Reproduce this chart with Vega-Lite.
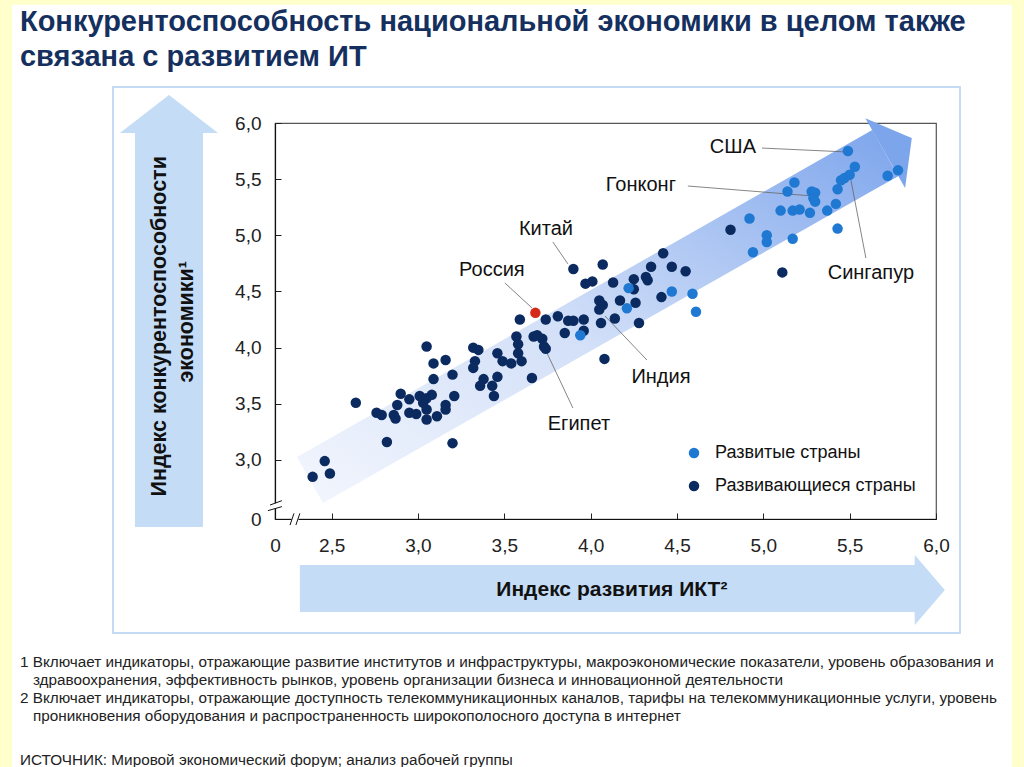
{
  "$schema": "https://vega.github.io/schema/vega-lite/v6.json",
  "width": 661,
  "height": 396,
  "autosize": "none",
  "padding": {"left": 275, "top": 123, "right": 88, "bottom": 248},
  "background": "white",
  "config": {"view": {"stroke": "#555555", "strokeWidth": 1.2}},
  "datasets": {
    "strips": [
      {"x": 0.579, "x2": 0.649, "y": 0.268, "y2": 7.1},
      {"x": 6.439, "x2": 6.509, "y": 0.268, "y2": 7.1},
      {"x": 0.579, "x2": 6.509, "y": 7.053, "y2": 7.1}
    ],
    "box": [{"x": 1.234, "x2": 6.139, "y": 1.46, "y2": 6.32}],
    "leftArrow": [
      {"y": 2.403, "x": 1.361, "x2": 1.755},
      {"y": 5.910, "x": 1.361, "x2": 1.755},
      {"y": 5.911, "x": 1.274, "x2": 1.842},
      {"y": 6.249, "x": 1.558, "x2": 1.558}
    ],
    "bottomArrow": [
      {"x": 2.316, "y": 1.647, "y2": 2.065},
      {"x": 5.876, "y": 1.647, "y2": 2.065},
      {"x": 5.877, "y": 1.531, "y2": 2.154},
      {"x": 6.051, "y": 1.842, "y2": 1.842}
    ],
    "bandBody": [
      {"x": 2.299, "y": 3.027, "y2": 3.027},
      {"x": 2.450, "y": 2.617, "y2": 3.158},
      {"x": 5.631, "y": 5.396, "y2": 5.937},
      {"x": 5.781, "y": 5.527, "y2": 5.527}
    ],
    "bandHead": [
      {"x": 5.591, "y": 6.042, "y2": 6.042},
      {"x": 5.821, "y": 5.422, "y2": 5.892},
      {"x": 5.860, "y": 5.866, "y2": 5.866}
    ],
    "pts": [
      {"x": 2.39, "y": 2.85, "type": "Развивающиеся страны"},
      {"x": 2.46, "y": 2.99, "type": "Развивающиеся страны"},
      {"x": 2.49, "y": 2.88, "type": "Развивающиеся страны"},
      {"x": 2.64, "y": 3.51, "type": "Развивающиеся страны"},
      {"x": 2.76, "y": 3.42, "type": "Развивающиеся страны"},
      {"x": 2.79, "y": 3.40, "type": "Развивающиеся страны"},
      {"x": 2.82, "y": 3.16, "type": "Развивающиеся страны"},
      {"x": 2.86, "y": 3.40, "type": "Развивающиеся страны"},
      {"x": 2.87, "y": 3.37, "type": "Развивающиеся страны"},
      {"x": 2.88, "y": 3.49, "type": "Развивающиеся страны"},
      {"x": 2.90, "y": 3.59, "type": "Развивающиеся страны"},
      {"x": 2.95, "y": 3.54, "type": "Развивающиеся страны"},
      {"x": 2.95, "y": 3.42, "type": "Развивающиеся страны"},
      {"x": 2.99, "y": 3.41, "type": "Развивающиеся страны"},
      {"x": 3.01, "y": 3.57, "type": "Развивающиеся страны"},
      {"x": 3.03, "y": 3.51, "type": "Развивающиеся страны"},
      {"x": 3.05, "y": 3.55, "type": "Развивающиеся страны"},
      {"x": 3.08, "y": 3.58, "type": "Развивающиеся страны"},
      {"x": 3.05, "y": 4.01, "type": "Развивающиеся страны"},
      {"x": 3.09, "y": 3.86, "type": "Развивающиеся страны"},
      {"x": 3.09, "y": 3.72, "type": "Развивающиеся страны"},
      {"x": 3.05, "y": 3.45, "type": "Развивающиеся страны"},
      {"x": 3.05, "y": 3.36, "type": "Развивающиеся страны"},
      {"x": 3.11, "y": 3.39, "type": "Развивающиеся страны"},
      {"x": 3.16, "y": 3.89, "type": "Развивающиеся страны"},
      {"x": 3.16, "y": 3.49, "type": "Развивающиеся страны"},
      {"x": 3.16, "y": 3.45, "type": "Развивающиеся страны"},
      {"x": 3.20, "y": 3.76, "type": "Развивающиеся страны"},
      {"x": 3.21, "y": 3.57, "type": "Развивающиеся страны"},
      {"x": 3.20, "y": 3.15, "type": "Развивающиеся страны"},
      {"x": 3.32, "y": 4.00, "type": "Развивающиеся страны"},
      {"x": 3.35, "y": 3.98, "type": "Развивающиеся страны"},
      {"x": 3.33, "y": 3.88, "type": "Развивающиеся страны"},
      {"x": 3.32, "y": 3.82, "type": "Развивающиеся страны"},
      {"x": 3.38, "y": 3.72, "type": "Развивающиеся страны"},
      {"x": 3.36, "y": 3.66, "type": "Развивающиеся страны"},
      {"x": 3.43, "y": 3.66, "type": "Развивающиеся страны"},
      {"x": 3.44, "y": 3.57, "type": "Развивающиеся страны"},
      {"x": 3.46, "y": 3.74, "type": "Развивающиеся страны"},
      {"x": 3.46, "y": 3.95, "type": "Развивающиеся страны"},
      {"x": 3.49, "y": 3.88, "type": "Развивающиеся страны"},
      {"x": 3.54, "y": 3.86, "type": "Развивающиеся страны"},
      {"x": 3.57, "y": 4.10, "type": "Развивающиеся страны"},
      {"x": 3.58, "y": 4.03, "type": "Развивающиеся страны"},
      {"x": 3.58, "y": 3.95, "type": "Развивающиеся страны"},
      {"x": 3.60, "y": 3.88, "type": "Развивающиеся страны"},
      {"x": 3.59, "y": 4.25, "type": "Развивающиеся страны"},
      {"x": 3.66, "y": 3.73, "type": "Развивающиеся страны"},
      {"x": 3.67, "y": 4.10, "type": "Развивающиеся страны"},
      {"x": 3.69, "y": 4.11, "type": "Развивающиеся страны"},
      {"x": 3.72, "y": 4.08, "type": "Развивающиеся страны"},
      {"x": 3.73, "y": 4.01, "type": "Развивающиеся страны"},
      {"x": 3.74, "y": 3.99, "type": "Развивающиеся страны"},
      {"x": 3.74, "y": 4.25, "type": "Развивающиеся страны"},
      {"x": 3.81, "y": 4.28, "type": "Развивающиеся страны"},
      {"x": 3.87, "y": 4.24, "type": "Развивающиеся страны"},
      {"x": 3.90, "y": 4.24, "type": "Развивающиеся страны"},
      {"x": 3.96, "y": 4.25, "type": "Развивающиеся страны"},
      {"x": 3.85, "y": 4.13, "type": "Развивающиеся страны"},
      {"x": 3.96, "y": 4.15, "type": "Развивающиеся страны"},
      {"x": 4.06, "y": 4.22, "type": "Развивающиеся страны"},
      {"x": 4.08, "y": 3.90, "type": "Развивающиеся страны"},
      {"x": 3.90, "y": 4.70, "type": "Развивающиеся страны"},
      {"x": 4.07, "y": 4.74, "type": "Развивающиеся страны"},
      {"x": 3.97, "y": 4.57, "type": "Развивающиеся страны"},
      {"x": 4.01, "y": 4.59, "type": "Развивающиеся страны"},
      {"x": 4.05, "y": 4.42, "type": "Развивающиеся страны"},
      {"x": 4.07, "y": 4.38, "type": "Развивающиеся страны"},
      {"x": 4.05, "y": 4.34, "type": "Развивающиеся страны"},
      {"x": 4.13, "y": 4.58, "type": "Развивающиеся страны"},
      {"x": 4.25, "y": 4.61, "type": "Развивающиеся страны"},
      {"x": 4.25, "y": 4.52, "type": "Развивающиеся страны"},
      {"x": 4.32, "y": 4.63, "type": "Развивающиеся страны"},
      {"x": 4.33, "y": 4.60, "type": "Развивающиеся страны"},
      {"x": 4.35, "y": 4.72, "type": "Развивающиеся страны"},
      {"x": 4.42, "y": 4.84, "type": "Развивающиеся страны"},
      {"x": 4.47, "y": 4.72, "type": "Развивающиеся страны"},
      {"x": 4.55, "y": 4.68, "type": "Развивающиеся страны"},
      {"x": 4.41, "y": 4.45, "type": "Развивающиеся страны"},
      {"x": 4.17, "y": 4.42, "type": "Развивающиеся страны"},
      {"x": 4.26, "y": 4.40, "type": "Развивающиеся страны"},
      {"x": 4.14, "y": 4.26, "type": "Развивающиеся страны"},
      {"x": 4.28, "y": 4.22, "type": "Развивающиеся страны"},
      {"x": 4.81, "y": 5.05, "type": "Развивающиеся страны"},
      {"x": 5.11, "y": 4.67, "type": "Развивающиеся страны"},
      {"x": 3.94, "y": 4.11, "type": "Развитые страны"},
      {"x": 4.22, "y": 4.53, "type": "Развитые страны"},
      {"x": 4.47, "y": 4.50, "type": "Развитые страны"},
      {"x": 4.21, "y": 4.35, "type": "Развитые страны"},
      {"x": 4.59, "y": 4.48, "type": "Развитые страны"},
      {"x": 4.61, "y": 4.32, "type": "Развитые страны"},
      {"x": 4.92, "y": 5.15, "type": "Развитые страны"},
      {"x": 5.02, "y": 5.00, "type": "Развитые страны"},
      {"x": 5.02, "y": 4.94, "type": "Развитые страны"},
      {"x": 4.94, "y": 4.85, "type": "Развитые страны"},
      {"x": 5.17, "y": 4.97, "type": "Развитые страны"},
      {"x": 5.10, "y": 5.22, "type": "Развитые страны"},
      {"x": 5.17, "y": 5.22, "type": "Развитые страны"},
      {"x": 5.21, "y": 5.23, "type": "Развитые страны"},
      {"x": 5.14, "y": 5.39, "type": "Развитые страны"},
      {"x": 5.18, "y": 5.47, "type": "Развитые страны"},
      {"x": 5.27, "y": 5.20, "type": "Развитые страны"},
      {"x": 5.28, "y": 5.39, "type": "Развитые страны"},
      {"x": 5.30, "y": 5.38, "type": "Развитые страны"},
      {"x": 5.29, "y": 5.33, "type": "Развитые страны"},
      {"x": 5.30, "y": 5.30, "type": "Развитые страны"},
      {"x": 5.37, "y": 5.22, "type": "Развитые страны"},
      {"x": 5.42, "y": 5.28, "type": "Развитые страны"},
      {"x": 5.43, "y": 5.41, "type": "Развитые страны"},
      {"x": 5.43, "y": 5.06, "type": "Развитые страны"},
      {"x": 5.45, "y": 5.49, "type": "Развитые страны"},
      {"x": 5.47, "y": 5.51, "type": "Развитые страны"},
      {"x": 5.50, "y": 5.54, "type": "Развитые страны"},
      {"x": 5.53, "y": 5.61, "type": "Развитые страны"},
      {"x": 5.49, "y": 5.75, "type": "Развитые страны"},
      {"x": 5.72, "y": 5.53, "type": "Развитые страны"},
      {"x": 5.78, "y": 5.58, "type": "Развитые страны"}
    ],
    "russia": [{"x": 3.68, "y": 4.31}],
    "leaders": [
      {"x": 4.992, "y": 5.777, "x2": 5.484, "y2": 5.742},
      {"x": 4.563, "y": 5.439, "x2": 5.287, "y2": 5.350},
      {"x": 3.781, "y": 4.941, "x2": 3.868, "y2": 4.746},
      {"x": 3.503, "y": 4.576, "x2": 3.660, "y2": 4.354},
      {"x": 4.326, "y": 3.890, "x2": 4.083, "y2": 4.282},
      {"x": 3.897, "y": 3.463, "x2": 3.747, "y2": 3.953},
      {"x": 5.594, "y": 4.798, "x2": 5.507, "y2": 5.493}
    ],
    "callouts": [
      {"x": 4.824, "y": 5.786, "text": "США"},
      {"x": 4.291, "y": 5.448, "text": "Гонконг"},
      {"x": 3.741, "y": 5.056, "text": "Китай"},
      {"x": 3.428, "y": 4.691, "text": "Россия"},
      {"x": 4.407, "y": 3.739, "text": "Индия"},
      {"x": 3.932, "y": 3.322, "text": "Египет"},
      {"x": 5.623, "y": 4.665, "text": "Сингапур"}
    ],
    "titleLines": [
      {"x": 0.695, "y": 6.899, "text": "Конкурентоспособность национальной экономики в целом также"},
      {"x": 0.695, "y": 6.588, "text": "связана с развитием ИТ"}
    ],
    "notes": [
      {"x": 0.695, "y": 1.202, "text": "1 Включает индикаторы, отражающие развитие институтов и инфраструктуры, макроэкономические показатели, уровень образования и"},
      {"x": 0.770, "y": 1.042, "text": "здравоохранения, эффективность рынков, уровень организации бизнеса и инновационной деятельности"},
      {"x": 0.695, "y": 0.882, "text": "2 Включает индикаторы, отражающие доступность телекоммуникационных каналов, тарифы на телекоммуникационные услуги, уровень"},
      {"x": 0.770, "y": 0.722, "text": "проникновения оборудования и распространенность широкополосного доступа в интернет"},
      {"x": 0.695, "y": 0.328, "text": "ИСТОЧНИК: Мировой экономический форум; анализ рабочей группы"}
    ],
    "yTitle": [
      {"x": 1.506, "y": 4.19, "text": "Индекс конкурентоспособности"},
      {"x": 1.660, "y": 4.23, "text": "экономики¹"}
    ],
    "xTitle": [{"x": 4.123, "y": 1.842, "text": "Индекс развития ИКТ²"}],
    "breakGaps": [
      {"x": 2.172, "y": 2.57, "x2": 2.172, "y2": 2.615},
      {"x": 2.268, "y": 2.4747, "x2": 2.308, "y2": 2.4747}
    ],
    "breakLines": [
      {"x": 2.143, "y": 2.599, "x2": 2.212, "y2": 2.638},
      {"x": 2.131, "y": 2.549, "x2": 2.212, "y2": 2.585},
      {"x": 2.259, "y": 2.421, "x2": 2.282, "y2": 2.525},
      {"x": 2.293, "y": 2.421, "x2": 2.316, "y2": 2.525}
    ]
  },
  "encoding": {
    "x": {
      "field": "x",
      "type": "quantitative",
      "scale": {"domain": [2.172, 6.0], "nice": false, "zero": false},
      "axis": {
        "values": [2.172, 2.5, 3, 3.5, 4, 4.5, 5, 5.5, 6],
        "labelExpr": "datum.value < 2.4 ? '0' : replace(format(datum.value, '.1f'), '.', ',')",
        "title": null,
        "grid": false,
        "tickSize": -6,
        "tickColor": "#222222",
        "tickOpacity": {"condition": {"test": "datum.value < 2.4", "value": 0}, "value": 1},
        "domainColor": "#111111",
        "domainWidth": 1.2,
        "labelFont": "Liberation Sans",
        "labelFontSize": 19,
        "labelColor": "#222222",
        "labelPadding": 23,
        "labelFlush": false,
        "labelOverlap": false
      }
    },
    "y": {
      "field": "y",
      "type": "quantitative",
      "scale": {"domain": [2.4747, 6.0], "nice": false, "zero": false},
      "axis": {
        "values": [2.4747, 3, 3.5, 4, 4.5, 5, 5.5, 6],
        "labelExpr": "datum.value < 2.6 ? '0' : replace(format(datum.value, '.1f'), '.', ',')",
        "title": null,
        "grid": false,
        "tickSize": -6,
        "tickColor": "#222222",
        "tickOpacity": {"condition": {"test": "datum.value < 2.6", "value": 0}, "value": 1},
        "domainColor": "#111111",
        "domainWidth": 1.2,
        "labelFont": "Liberation Sans",
        "labelFontSize": 19,
        "labelColor": "#222222",
        "labelPadding": 20,
        "labelFlush": false,
        "labelOverlap": false
      }
    }
  },
  "layer": [
    {
      "data": {"name": "strips"},
      "mark": {"type": "rect", "color": "#FFFFCC"},
      "encoding": {"x2": {"field": "x2"}, "y2": {"field": "y2"}}
    },
    {
      "data": {"name": "box"},
      "mark": {"type": "rect", "filled": false, "stroke": "#C5DBF5", "strokeWidth": 2},
      "encoding": {"x2": {"field": "x2"}, "y2": {"field": "y2"}}
    },
    {
      "data": {"name": "leftArrow"},
      "mark": {"type": "area", "orient": "horizontal", "color": "#C4DCF6", "opacity": 1},
      "encoding": {"x2": {"field": "x2"}}
    },
    {
      "data": {"name": "bottomArrow"},
      "mark": {"type": "area", "orient": "vertical", "color": "#C4DCF6", "opacity": 1},
      "encoding": {"y2": {"field": "y2"}}
    },
    {
      "data": {"name": "bandBody"},
      "mark": {
        "type": "area",
        "orient": "vertical",
        "opacity": 1,
        "color": {
          "gradient": "linear",
          "x1": 0, "y1": 1, "x2": 1, "y2": 0,
          "stops": [
            {"offset": 0, "color": "#F3F6FD"},
            {"offset": 0.45, "color": "#D3E0F8"},
            {"offset": 1, "color": "#7DA5EC"}
          ]
        }
      },
      "encoding": {"y2": {"field": "y2"}}
    },
    {
      "data": {"name": "bandHead"},
      "mark": {"type": "area", "orient": "vertical", "color": "#7DA5EC", "opacity": 1},
      "encoding": {"y2": {"field": "y2"}}
    },
    {
      "data": {"name": "leaders"},
      "mark": {"type": "rule", "color": "#666666", "strokeWidth": 0.8},
      "encoding": {"x2": {"field": "x2"}, "y2": {"field": "y2"}}
    },
    {
      "data": {"name": "pts"},
      "mark": {"type": "circle", "size": 110, "opacity": 1},
      "encoding": {
        "color": {
          "field": "type",
          "type": "nominal",
          "scale": {"domain": ["Развитые страны", "Развивающиеся страны"], "range": ["#1F78D1", "#0B2B60"]},
          "legend": {
            "orient": "none",
            "legendX": 410,
            "legendY": 321,
            "title": null,
            "padding": 0,
            "symbolSize": 110,
            "symbolType": "circle",
            "labelFont": "Liberation Sans",
            "labelFontSize": 18,
            "labelLimit": 0,
            "labelColor": "#111111",
            "labelOffset": 12,
            "rowPadding": 15
          }
        }
      }
    },
    {
      "data": {"name": "russia"},
      "mark": {"type": "circle", "size": 110, "opacity": 1, "color": "#D42A1A"}
    },
    {
      "data": {"name": "callouts"},
      "mark": {"type": "text", "font": "Liberation Sans", "fontSize": 20, "color": "#111111", "align": "center", "baseline": "middle"},
      "encoding": {"text": {"field": "text"}}
    },
    {
      "data": {"name": "titleLines"},
      "mark": {"type": "text", "font": "Liberation Sans", "fontSize": 29, "fontWeight": "bold", "color": "#15305E", "align": "left", "baseline": "middle"},
      "encoding": {"text": {"field": "text"}}
    },
    {
      "data": {"name": "notes"},
      "mark": {"type": "text", "font": "Liberation Sans", "fontSize": 15.3, "color": "#222222", "align": "left", "baseline": "middle"},
      "encoding": {"text": {"field": "text"}}
    },
    {
      "data": {"name": "yTitle"},
      "mark": {"type": "text", "font": "Liberation Sans", "fontSize": 21.5, "fontWeight": "bold", "color": "#111111", "align": "center", "baseline": "middle", "angle": 270},
      "encoding": {"text": {"field": "text"}}
    },
    {
      "data": {"name": "xTitle"},
      "mark": {"type": "text", "font": "Liberation Sans", "fontSize": 21, "fontWeight": "bold", "color": "#111111", "align": "center", "baseline": "middle"},
      "encoding": {"text": {"field": "text"}}
    },
    {
      "data": {"name": "breakGaps"},
      "mark": {"type": "rule", "color": "white", "strokeWidth": 4},
      "encoding": {"x2": {"field": "x2"}, "y2": {"field": "y2"}}
    },
    {
      "data": {"name": "breakLines"},
      "mark": {"type": "rule", "color": "#111111", "strokeWidth": 1},
      "encoding": {"x2": {"field": "x2"}, "y2": {"field": "y2"}}
    }
  ]
}
